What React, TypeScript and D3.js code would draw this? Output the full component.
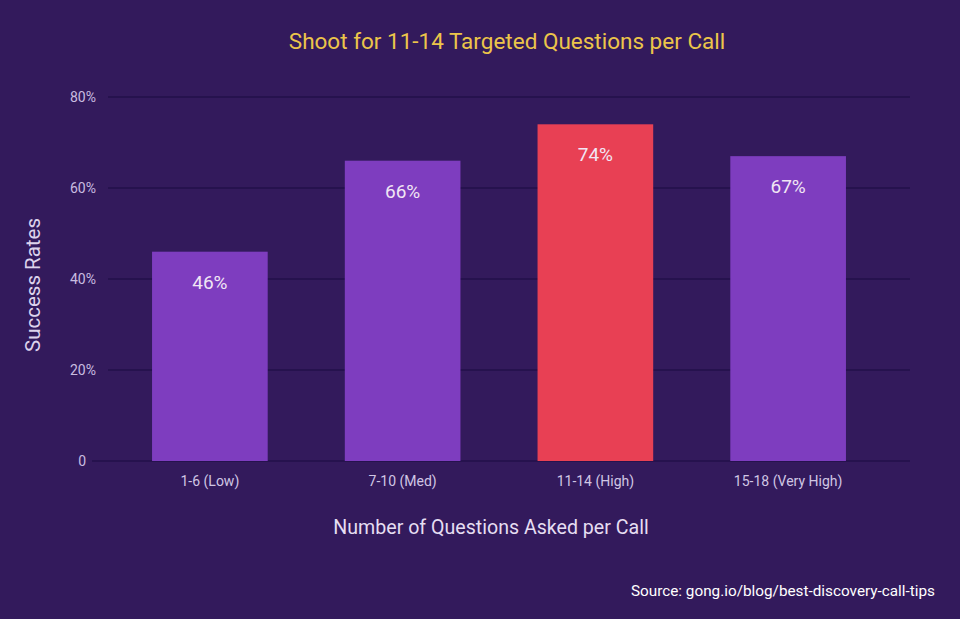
import * as d3 from "d3";

const categories = ["1-6 (Low)", "7-10 (Med)", "11-14 (High)", "15-18 (Very High)"];
const successRates = [46, 66, 74, 67];
const highlighted = ["11-14 (High)"];
const yTicks = [0, 20, 40, 60, 80];

const W = 960;
const H = 619;
const font = "Roboto, 'Noto Sans', sans-serif";

export default function App() {
  const x = d3
    .scaleBand<string>()
    .domain(categories)
    .range([113.5, 884.5])
    .paddingInner(0.4)
    .paddingOuter(0.2);

  const y = d3.scaleLinear().domain([0, 80]).range([461, 97]);

  const data = categories.map((c, i) => ({ cat: c, value: successRates[i] }));

  return (
    <svg
      width={W}
      height={H}
      viewBox={`0 0 ${W} ${H}`}
      style={{ position: "absolute", left: 0, top: 0, display: "block" }}
      fontFamily={font}
    >
      <rect width={W} height={H} fill="#331a5c" />

      <text x={507} y={49} textAnchor="middle" fill="#ecc54a" fontSize={22.5}>
        Shoot for 11-14 Targeted Questions per Call
      </text>

      {/* gridlines + y ticks */}
      {yTicks.map((t) => (
        <g key={t}>
          <line
            x1={t === 0 ? 92 : 108}
            x2={910}
            y1={y(t)}
            y2={y(t)}
            stroke="#23104a"
            strokeWidth={1.5}
          />
          <text
            x={t === 0 ? 86 : 96}
            y={y(t) + 5}
            textAnchor="end"
            fill="#c9bde0"
            fontSize={14}
          >
            {t === 0 ? "0" : `${t}%`}
          </text>
        </g>
      ))}

      {/* bars */}
      {data.map((d) => (
        <g key={d.cat}>
          <rect
            x={x(d.cat)}
            y={y(d.value)}
            width={x.bandwidth()}
            height={y(0) - y(d.value)}
            fill={highlighted.includes(d.cat) ? "#e84054" : "#7e3dbf"}
          />
          <text
            x={(x(d.cat) ?? 0) + x.bandwidth() / 2}
            y={y(d.value) + 37}
            textAnchor="middle"
            fill="#f1e6f4"
            fontSize={19}
          >
            {d.value}%
          </text>
          <text
            x={(x(d.cat) ?? 0) + x.bandwidth() / 2}
            y={486}
            textAnchor="middle"
            fill="#d0c6e4"
            fontSize={14}
          >
            {d.cat}
          </text>
        </g>
      ))}

      <text
        transform="translate(40,285) rotate(-90)"
        textAnchor="middle"
        fill="#ddd3ec"
        fontSize={20.5}
      >
        Success Rates
      </text>

      <text x={491} y={534} textAnchor="middle" fill="#e6def2" fontSize={19.6}>
        Number of Questions Asked per Call
      </text>

      <text x={935} y={596} textAnchor="end" fill="#ffffff" fontSize={15.3}>
        Source: gong.io/blog/best-discovery-call-tips
      </text>
    </svg>
  );
}
